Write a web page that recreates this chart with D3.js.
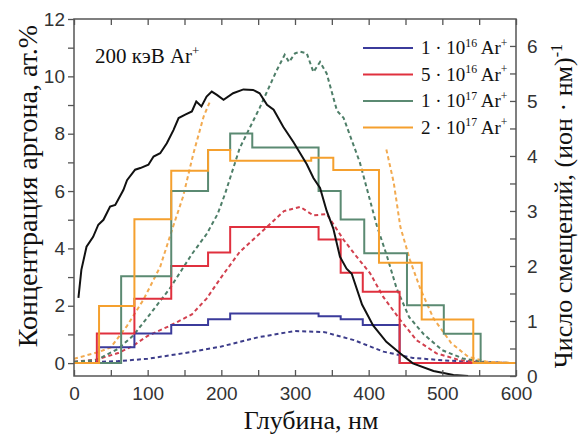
<!DOCTYPE html>
<html>
<head>
<meta charset="utf-8">
<script src="https://cdn.jsdelivr.net/npm/d3@7"></script>
<style>
  body { margin: 0; background: #fff; }
  text { font-family: "Liberation Serif", "Times New Roman", serif; }
  .tick text { font-family: "Liberation Sans", Arial, sans-serif; font-size: 19px; fill: #333; }
</style>
</head>
<body>
<svg width="578" height="441"></svg>
<script>
// measured step profiles (left axis, at.%)
var blueEdges = [0, 34, 82, 132, 182, 212, 332, 362, 392, 442, 600];
var blueVals = [0, 0.55, 1.03, 1.33, 1.53, 1.73, 1.63, 1.53, 1.33, 0];
var redEdges = [0, 31, 82, 132, 182, 212, 332, 362, 392, 442, 600];
var redVals = [0, 1.03, 2.24, 3.39, 3.86, 4.75, 4.31, 3.15, 2.49, 0];
var greenEdges = [0, 64, 132, 182, 212, 242, 332, 362, 394, 452, 502, 552, 600];
var greenVals = [0, 3.03, 6.0, 7.43, 8.01, 7.52, 6.0, 5.01, 3.83, 2.02, 1.02, 0];
var orangeEdges = [0, 34, 82, 132, 182, 212, 322, 352, 414, 472, 542, 600];
var orangeVals = [0, 1.99, 5.02, 6.71, 7.43, 7.06, 7.16, 6.73, 3.50, 1.52, 0];

// calculated profiles (dashed, left axis)
var blueDashX = [0, 30, 60, 100, 150, 200, 250, 300, 340, 380, 420, 460, 500, 540, 580, 600];
var blueDashY = [0.02, 0.04, 0.07, 0.15, 0.35, 0.58, 0.9, 1.12, 1.08, 0.8, 0.4, 0.18, 0.1, 0.04, 0.01, 0];
var redDashX = [0, 30, 60, 80, 100, 130, 160, 180, 200, 225, 260, 285, 307, 325, 343, 366, 384, 402, 420, 443, 465, 492, 524, 560, 600];
var redDashY = [0.05, 0.12, 0.35, 0.6, 0.95, 1.3, 1.7, 2.25, 3.0, 3.88, 4.7, 5.3, 5.45, 5.15, 5.2, 4.3, 3.7, 3.13, 2.3, 1.5, 0.8, 0.34, 0.1, 0.02, 0];
var greenDashX = [0, 30, 60, 80, 100, 130, 160, 180, 195, 205, 225, 252, 275, 286, 292, 300, 307, 316, 325, 334, 343, 357, 366, 388, 411, 424, 438, 455, 475, 500, 528, 560, 600];
var greenDashY = [0.05, 0.1, 0.5, 0.95, 1.6, 2.6, 3.8, 4.5, 5.2, 5.9, 7.5, 8.9, 10.2, 10.75, 10.5, 10.8, 10.86, 10.8, 10.15, 10.5, 10.1, 8.8, 8.55, 7.0, 4.8, 3.8, 2.6, 1.6, 1.0, 0.45, 0.16, 0.03, 0];
var orangeDashX = [0, 35, 50, 72, 94, 117, 135, 148, 162, 176, 185, 300, 424, 434, 443, 456, 470, 488, 512, 535, 560, 600];
var orangeDashY = [0.15, 0.4, 0.55, 1.3, 2.2, 3.36, 4.8, 5.8, 7.3, 8.6, 9.15, null, 7.45, 6.3, 4.75, 3.6, 2.6, 1.56, 0.7, 0.22, 0.05, 0];

// displacements (right axis)
var dispX = [6, 10, 17, 26, 33, 40, 49, 56, 67, 72, 83, 90, 101, 108, 117, 126, 135, 142, 151, 160, 166, 173, 180, 187, 194, 203, 216, 230, 243, 252, 262, 271, 284, 298, 307, 316, 325, 334, 343, 352, 361, 370, 377, 391, 406, 424, 443, 460, 488, 515, 535];
var dispY = [1.42, 1.93, 2.35, 2.53, 2.75, 2.84, 3.08, 3.11, 3.38, 3.56, 3.75, 3.78, 3.84, 3.99, 4.05, 4.23, 4.47, 4.69, 4.75, 4.81, 4.99, 4.9, 5.08, 5.17, 5.11, 5.02, 5.14, 5.21, 5.2, 5.14, 4.93, 4.84, 4.53, 4.25, 4.05, 3.85, 3.6, 3.42, 3.0, 2.68, 2.17, 1.95, 1.86, 1.3, 0.92, 0.62, 0.41, 0.23, 0.09, 0.02, 0];

var seriesNames = ["1 · 10|16| Ar|+", "5 · 10|16| Ar|+", "1 · 10|17| Ar|+", "2 · 10|17| Ar|+"];
var stepColors = ["#3b3b9b", "#e0303e", "#5b8a72", "#f5a02e"];
var dashColors = ["#3c3c8a", "#d2404e", "#4e7e68", "#f2aa50"];

var pLeft = 74, pRight = 516, pTop = 19, pBottom = 376;

var svg = d3.select("svg");

var x = d3.scaleLinear().domain([0, 600]).range([pLeft, pRight]);
var yL = d3.scaleLinear().domain([-0.45, 12]).range([pBottom, pTop]);
var yR = d3.scaleLinear().domain([0, 6.49]).range([pBottom, pTop]);

svg.append("clipPath").attr("id", "clip")
    .append("rect").attr("x", pLeft).attr("y", pTop)
    .attr("width", pRight - pLeft).attr("height", pBottom - pTop);

var plot = svg.append("g").attr("clip-path", "url(#clip)");

// dashed
var dashLine = d3.line()
    .defined(function (d) { return d[1] != null; })
    .x(function (d) { return x(d[0]); })
    .y(function (d) { return yL(d[1]); });

var dashSets = [[blueDashX, blueDashY], [redDashX, redDashY], [greenDashX, greenDashY], [orangeDashX, orangeDashY]];
dashSets.forEach(function (s, i) {
    plot.append("path")
        .datum(d3.zip(s[0], s[1]))
        .attr("d", dashLine)
        .attr("fill", "none")
        .attr("stroke", dashColors[i])
        .attr("stroke-width", 2)
        .attr("stroke-dasharray", "4,3");
});

// steps
var stepLine = d3.line()
    .curve(d3.curveStepAfter)
    .x(function (d) { return x(d[0]); })
    .y(function (d) { return yL(d[1]); });

var stepSets = [[blueEdges, blueVals], [redEdges, redVals], [greenEdges, greenVals], [orangeEdges, orangeVals]];
stepSets.forEach(function (s, i) {
    var vals = s[1].concat([s[1][s[1].length - 1]]);
    plot.append("path")
        .datum(d3.zip(s[0], vals))
        .attr("d", stepLine)
        .attr("fill", "none")
        .attr("stroke", stepColors[i])
        .attr("stroke-width", 2);
});

// displacements
plot.append("path")
    .datum(d3.zip(dispX, dispY))
    .attr("d", d3.line().x(function (d) { return x(d[0]); }).y(function (d) { return yR(d[1]); }))
    .attr("fill", "none")
    .attr("stroke", "#111")
    .attr("stroke-width", 2);

// axes
var axisColor = "#555";
function styleAxis(g) {
    g.select(".domain").remove();
    g.selectAll("line").attr("stroke", axisColor).attr("stroke-width", 1.3);
}

svg.append("g").attr("transform", "translate(0," + pBottom + ")")
    .call(d3.axisBottom(x).tickValues(d3.range(0, 601, 50)).tickSize(-6).tickPadding(11)
        .tickFormat(function (d) { return d % 100 === 0 ? d : ""; }))
    .call(styleAxis);

svg.append("g").attr("transform", "translate(0," + pTop + ")")
    .call(d3.axisTop(x).tickValues(d3.range(0, 601, 50)).tickSize(-6).tickFormat(""))
    .call(styleAxis);

svg.append("g").attr("transform", "translate(" + pLeft + ",0)")
    .call(d3.axisLeft(yL).tickValues(d3.range(0, 13, 1)).tickSize(6).tickPadding(3)
        .tickFormat(function (d) { return d % 2 === 0 ? d : ""; }))
    .call(styleAxis);

svg.append("g").attr("transform", "translate(" + pRight + ",0)")
    .call(d3.axisRight(yR).tickValues(d3.range(0, 6.01, 0.5)).tickSize(-6).tickPadding(11)
        .tickFormat(function (d) { return d % 1 === 0 ? d : ""; }))
    .call(styleAxis);

svg.append("rect")
    .attr("x", pLeft).attr("y", pTop)
    .attr("width", pRight - pLeft).attr("height", pBottom - pTop)
    .attr("fill", "none").attr("stroke", axisColor).attr("stroke-width", 1.5);

// rich text with superscripts: "a|sup|b|sup"
function richText(t, str, size) {
    var parts = str.split("|");
    parts.forEach(function (p, i) {
        var sup = i % 2 === 1;
        var ts = t.append("tspan").text(p);
        if (sup) ts.attr("font-size", size * 0.62).attr("dy", -size * 0.38);
        else if (i > 0) ts.attr("dy", size * 0.38);
    });
}

// legend
var legend = svg.append("g");
seriesNames.forEach(function (name, i) {
    var yy = 48 + i * 26.5;
    legend.append("line")
        .attr("x1", 363).attr("x2", 413).attr("y1", yy).attr("y2", yy)
        .attr("stroke", stepColors[i]).attr("stroke-width", 2);
    var t = legend.append("text").attr("x", 421).attr("y", yy + 6)
        .attr("font-size", 19).attr("fill", "#111");
    richText(t, name, 19);
});

// annotation
var ann = svg.append("text").attr("x", 95).attr("y", 63).attr("font-size", 21).attr("fill", "#111");
richText(ann, "200 кэВ Ar|+", 21);

// axis titles
svg.append("text")
    .attr("transform", "translate(37,186) rotate(-90)")
    .attr("text-anchor", "middle").attr("font-size", 28).attr("fill", "#111")
    .text("Концентрация аргона, ат.%");

var rt = svg.append("text")
    .attr("transform", "translate(572,206) rotate(-90)")
    .attr("text-anchor", "middle").attr("font-size", 26).attr("fill", "#111");
richText(rt, "Число смещений, (ион · нм)|-1", 26);

svg.append("text")
    .attr("x", 311).attr("y", 429)
    .attr("text-anchor", "middle").attr("font-size", 26).attr("fill", "#111")
    .text("Глубина, нм");
</script>
</body>
</html>
